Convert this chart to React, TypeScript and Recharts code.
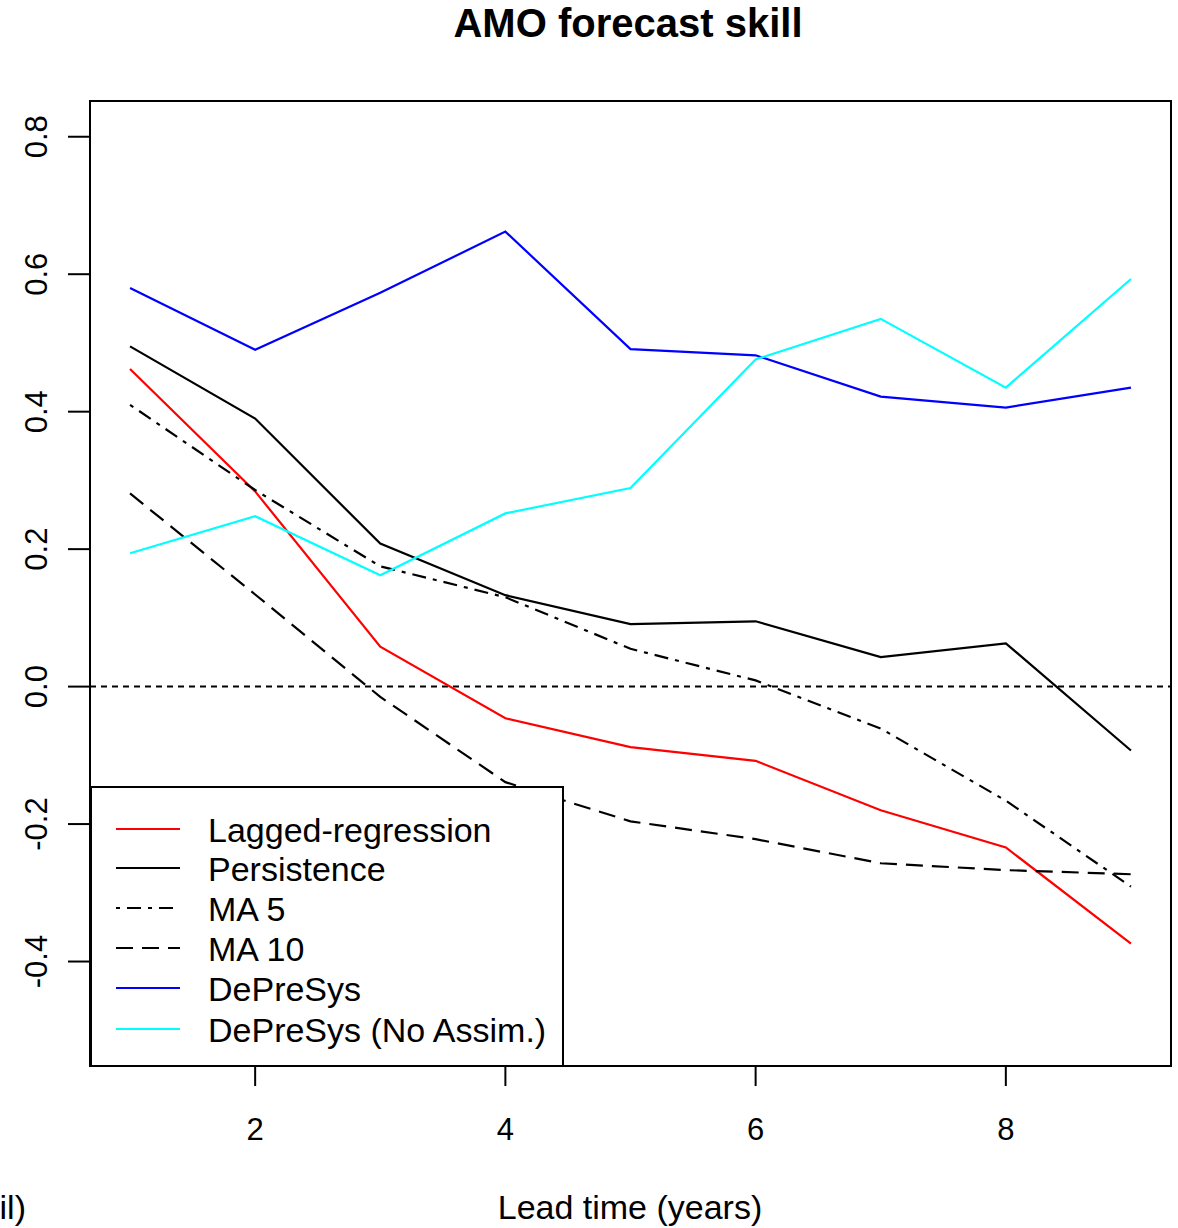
import React from 'react';
import { LineChart, Line, XAxis, YAxis, ReferenceLine, ReferenceArea } from 'recharts';

const leadTimes = [1, 2, 3, 4, 5, 6, 7, 8, 9];
const lagged = [0.462, 0.284, 0.058, -0.046, -0.088, -0.108, -0.18, -0.234, -0.374];
const persistence = [0.495, 0.39, 0.208, 0.133, 0.091, 0.095, 0.043, 0.063, -0.093];
const ma5 = [0.41, 0.286, 0.175, 0.13, 0.055, 0.009, -0.061, -0.166, -0.291];
const ma10 = [0.281, 0.134, -0.015, -0.139, -0.196, -0.222, -0.257, -0.267, -0.273];
const depresys = [0.58, 0.49, 0.573, 0.662, 0.491, 0.482, 0.422, 0.406, 0.435];
const noAssim = [0.194, 0.248, 0.162, 0.252, 0.289, 0.476, 0.535, 0.435, 0.593];

const xTicks = [2, 4, 6, 8];
const yTicks = [-0.4, -0.2, 0, 0.2, 0.4, 0.6, 0.8];
const xDomain: [number, number] = [0.68, 9.32];
const yDomain: [number, number] = [-0.552, 0.852];

const series = [
  { key: 'lagged', name: 'Lagged-regression', values: lagged, color: '#FF0000', dash: undefined as string | undefined },
  { key: 'persistence', name: 'Persistence', values: persistence, color: '#000000', dash: undefined },
  { key: 'ma5', name: 'MA 5', values: ma5, color: '#000000', dash: '4 7 14 7' },
  { key: 'ma10', name: 'MA 10', values: ma10, color: '#000000', dash: '17 9' },
  { key: 'depresys', name: 'DePreSys', values: depresys, color: '#0000FF', dash: undefined },
  { key: 'noAssim', name: 'DePreSys (No Assim.)', values: noAssim, color: '#00FFFF', dash: undefined },
];

const data = leadTimes.map((lead, i) => {
  const row: Record<string, number> = { lead };
  series.forEach((s) => {
    row[s.key] = s.values[i];
  });
  return row;
});

const FONT = '"Liberation Sans", Arial, Helvetica, sans-serif';

const YTick = (props: any) => {
  const { x, y, payload } = props;
  return (
    <text
      x={x}
      y={y}
      transform={`rotate(-90, ${x}, ${y})`}
      textAnchor="middle"
      fontSize={31}
      fontFamily={FONT}
      fill="#000"
    >
      {Number(payload.value).toFixed(1)}
    </text>
  );
};

const LegendBox = () => {
  const rowY = [41, 80, 120, 160, 200, 241];
  return (
    <div
      style={{
        position: 'absolute',
        left: 90,
        top: 786,
        width: 474,
        height: 281,
        boxSizing: 'border-box',
        border: '2px solid #000',
        background: '#fff',
      }}
    >
      <svg width={470} height={277} style={{ display: 'block' }}>
        {series.map((s, i) => (
          <g key={s.key}>
            <line
              x1={24}
              x2={88}
              y1={rowY[i]}
              y2={rowY[i]}
              stroke={s.color}
              strokeWidth={2.2}
              strokeDasharray={s.dash}
            />
            <text x={116} y={rowY[i] + 13} fontSize={34} fontFamily={FONT} fill="#000">
              {s.name}
            </text>
          </g>
        ))}
      </svg>
    </div>
  );
};

export default function App() {
  return (
    <div style={{ position: 'absolute', left: 0, top: 0, width: 1178, height: 1228, background: '#fff', overflow: 'hidden' }}>
      <LineChart
        width={1178}
        height={1228}
        data={data}
        margin={{ top: 101, right: 7, bottom: 0, left: 0 }}
      >
        <ReferenceArea
          x1={xDomain[0]}
          x2={xDomain[1]}
          y1={yDomain[0]}
          y2={yDomain[1]}
          fill="none"
          fillOpacity={0}
          stroke="#000"
          strokeWidth={2}
          ifOverflow="visible"
        />
        <XAxis
          dataKey="lead"
          type="number"
          domain={xDomain}
          ticks={xTicks}
          allowDataOverflow
          height={162}
          axisLine={false}
          tickLine={{ stroke: '#000', strokeWidth: 2 }}
          tickSize={20}
          tickMargin={32}
          tick={{ fontSize: 31, fill: '#000', fontFamily: FONT }}
        />
        <YAxis
          type="number"
          domain={yDomain}
          ticks={yTicks}
          allowDataOverflow
          width={90}
          axisLine={false}
          tickLine={{ stroke: '#000', strokeWidth: 2 }}
          tickSize={22}
          tickMargin={21}
          tick={<YTick />}
        />
        <ReferenceLine y={0} stroke="#000" strokeWidth={2} strokeDasharray="6 5" />
        {series.map((s) => (
          <Line
            key={s.key}
            type="linear"
            dataKey={s.key}
            name={s.name}
            stroke={s.color}
            strokeWidth={2.2}
            strokeDasharray={s.dash}
            dot={false}
            activeDot={false}
            isAnimationActive={false}
          />
        ))}
      </LineChart>
      <LegendBox />
      <svg
        width={1178}
        height={1228}
        style={{ position: 'absolute', left: 0, top: 0, pointerEvents: 'none' }}
      >
        <text x={628} y={37} textAnchor="middle" fontSize={40} fontWeight="bold" fontFamily={FONT} fill="#000">
          AMO forecast skill
        </text>
        <text x={630} y={1219} textAnchor="middle" fontSize={34} fontFamily={FONT} fill="#000">
          Lead time (years)
        </text>
        <text x={26} y={1219} textAnchor="end" fontSize={34} fontFamily={FONT} fill="#000">
          il)
        </text>
      </svg>
    </div>
  );
}
